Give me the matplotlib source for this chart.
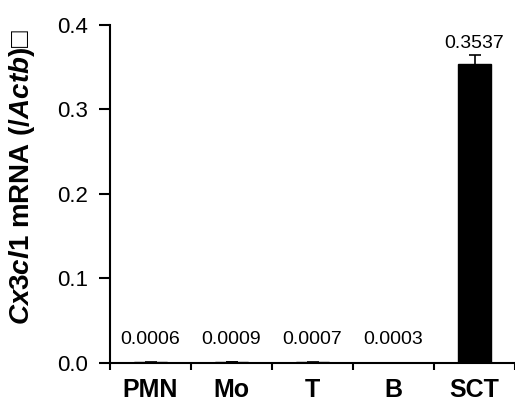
import numpy as np
import matplotlib
matplotlib.use("Agg")
import matplotlib.pyplot as plt

plt.rcParams['font.family'] = ['Liberation Sans', 'DejaVu Sans']
plt.rcParams['mathtext.fontset'] = 'custom'
plt.rcParams['mathtext.it'] = 'Liberation Sans:italic:bold'
plt.rcParams['mathtext.rm'] = 'Liberation Sans:bold'

cells = ['PMN', 'Mo', 'T', 'B', 'SCT']
expr = [0.0006, 0.0009, 0.0007, 0.0003, 0.3537]
err = [0.0002, 0.0003, 0.0002, 0.0001, 0.011]
labels = ['0.0006', '0.0009', '0.0007', '0.0003', '0.3537']

fig = plt.figure(figsize=(5.15, 4.03), dpi=100)
ax = fig.add_axes([0.2136, 0.0993, 0.7864, 0.8387])

x = np.arange(len(cells))
ax.bar(x, expr, width=0.41, color='black', edgecolor='black',
       yerr=err, error_kw=dict(ecolor='black', elinewidth=1.2, capsize=4, capthick=1.2))

for xi, v, e, lab in zip(x, expr, err, labels):
    ax.annotate(lab, (xi, max(v + e, 0.015)), xytext=(0, 2), textcoords='offset points',
                ha='center', va='bottom', fontsize=14)

ax.set_xlim(-0.5, len(cells) - 0.5)
ax.set_ylim(0, 0.4)
ax.set_yticks([0.0, 0.1, 0.2, 0.3, 0.4])
ax.set_yticklabels(['0.0', '0.1', '0.2', '0.3', '0.4'], fontsize=16)

# ticks between categories, labels centred
ax.set_xticks(np.arange(len(cells) + 1) - 0.5)
ax.set_xticklabels([])
ax.set_xticks(x, minor=True)
ax.set_xticklabels(cells, minor=True, fontsize=18, fontweight='bold')
ax.tick_params(axis='x', which='minor', length=0, pad=11)
ax.tick_params(axis='x', which='major', length=5, width=1.5, direction='out')
ax.tick_params(axis='y', length=8, width=1.5, direction='out', pad=8)

for s in ['top', 'right']:
    ax.spines[s].set_visible(False)
for s in ['left', 'bottom']:
    ax.spines[s].set_linewidth(1.5)

ax.set_ylabel(r'$\mathit{Cx3cl1}$ mRNA ($\mathit{/Actb}$)' + '\u25a1',
              fontsize=20, fontweight='bold')
ax.yaxis.set_label_coords(-0.18, 0.552)

fig.savefig('out.png', dpi=100)
